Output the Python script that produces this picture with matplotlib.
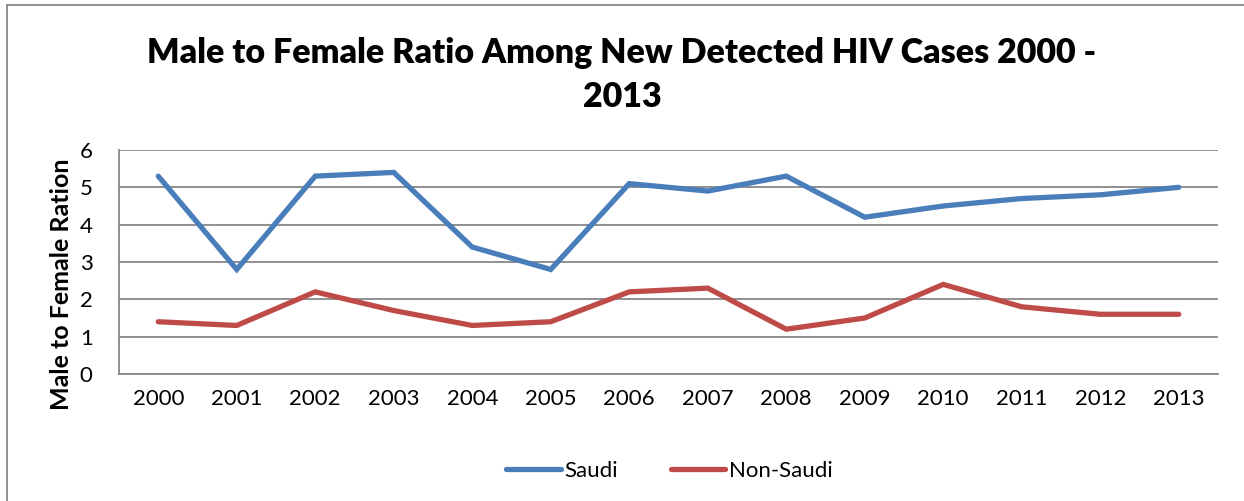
import matplotlib
matplotlib.use("Agg")
import matplotlib.pyplot as plt
from matplotlib.lines import Line2D

# data
years = [2000, 2001, 2002, 2003, 2004, 2005, 2006, 2007, 2008, 2009, 2010, 2011, 2012, 2013]
saudi = [5.3, 2.8, 5.3, 5.4, 3.4, 2.8, 5.1, 4.9, 5.3, 4.2, 4.5, 4.7, 4.8, 5.0]
non_saudi = [1.4, 1.3, 2.2, 1.7, 1.3, 1.4, 2.2, 2.3, 1.2, 1.5, 2.4, 1.8, 1.6, 1.6]
y_ticks = [0, 1, 2, 3, 4, 5, 6]

plt.rcParams['font.family'] = ['Lato', 'DejaVu Sans']

W, H = 1244, 501
fig = plt.figure(figsize=(W / 100, H / 100), dpi=100)

# axes box in pixels: left 119, right 1218, top 150, bottom 374
ax = fig.add_axes([119 / W, 1 - 374 / H, (1218 - 119) / W, (374 - 150) / H])

x = list(range(len(years)))
ax.plot(x, saudi, color='#4A7EBB', lw=3.8, solid_capstyle='round', solid_joinstyle='miter', label='Saudi', zorder=3)
ax.plot(x, non_saudi, color='#BE4B48', lw=3.8, solid_capstyle='round', solid_joinstyle='miter', label='Non-Saudi', zorder=3)

ax.set_xlim(-0.5, len(years) - 0.5)
ax.set_ylim(0, 6)
ax.set_yticks(y_ticks)
ax.set_xticks(x)
ax.set_xticklabels([str(y) for y in years])
ax.tick_params(axis='both', length=0, labelsize=16, colors='black')
ax.tick_params(axis='y', pad=19)
ax.tick_params(axis='x', pad=11)

ax.grid(axis='y', color='#878787', lw=1.3)
ax.set_axisbelow(True)
for s in ['top', 'right']:
    ax.spines[s].set_visible(False)
ax.spines['left'].set_color('#878787')
ax.spines['left'].set_linewidth(1.3)
ax.spines['bottom'].set_color('#878787')
ax.spines['bottom'].set_linewidth(1.3)

ax.set_ylabel('Male to Female Ration', fontsize=18, fontweight='bold')
ax.yaxis.set_label_coords(-0.042, 0.40)

fig.text(0.5, 1 - 75 / H, 'Male to Female Ratio Among New Detected HIV Cases 2000 -\n2013',
         ha='center', va='center', fontsize=24.5, fontweight='heavy', linespacing=1.45)

handles = [Line2D([], [], color='#4A7EBB', lw=3.8, solid_capstyle='round'),
           Line2D([], [], color='#BE4B48', lw=3.8, solid_capstyle='round')]
fig.legend(handles, ['Saudi', 'Non-Saudi'], loc='center', bbox_to_anchor=(0.538, 1 - 471 / H),
           ncol=2, frameon=False, fontsize=16, handlelength=2.45, handletextpad=0.15,
           columnspacing=2.4)

# outer chart border (left and top visible)
fig.add_artist(Line2D([7 / W, 7 / W], [0, 1 - 5 / H], color='#878787', lw=1.3, transform=fig.transFigure))
fig.add_artist(Line2D([7 / W, 1], [1 - 5 / H, 1 - 5 / H], color='#878787', lw=1.3, transform=fig.transFigure))

fig.savefig('out.png', dpi=100, facecolor='white')
